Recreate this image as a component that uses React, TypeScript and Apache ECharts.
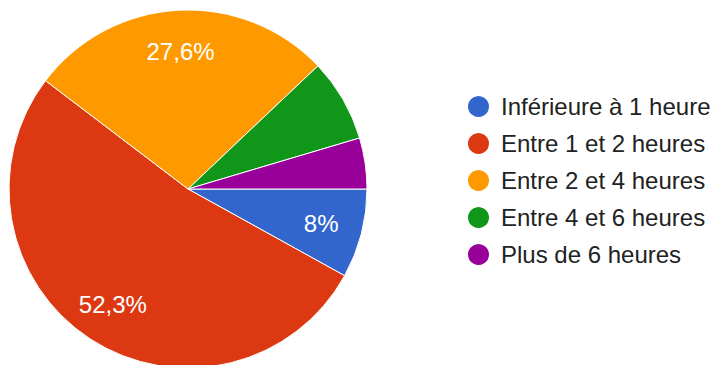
import React, { useEffect, useRef } from "react";
import * as echarts from "echarts";

const categories = [
  "Inférieure à 1 heure",
  "Entre 1 et 2 heures",
  "Entre 2 et 4 heures",
  "Entre 4 et 6 heures",
  "Plus de 6 heures",
];
const counts = [14, 91, 48, 13, 8];
const colors = ["#3366cc", "#dc3912", "#ff9900", "#109618", "#990099"];
const labelThreshold = 8; // percent; smaller slices carry no label

const FONT = "'Liberation Sans', Arial, sans-serif";

export default function App() {
  const ref = useRef<HTMLDivElement>(null);
  useEffect(() => {
    if (!ref.current) return;
    const chart = echarts.init(ref.current, null, { renderer: "svg" });
    const total = counts.reduce((a, b) => a + b, 0);
    const data = categories.map((name, i) => ({
      name,
      value: counts[i],
      itemStyle: { color: colors[i] },
    }));
    const fmt = (v: number) => {
      const p = (v / total) * 100;
      if (p < labelThreshold) return "";
      return String(Number(p.toFixed(1))).replace(".", ",") + "%";
    };
    chart.setOption({
      animation: false,
      color: colors,
      legend: {
        orient: "vertical",
        left: 461,
        top: 89,
        icon: "circle",
        itemWidth: 23,
        itemHeight: 23,
        itemGap: 12,
        data: categories,
        textStyle: {
          fontFamily: FONT,
          fontSize: 24,
          lineHeight: 24,
          color: "#222222",
          padding: [0, 0, 0, 6],
        },
      },
      series: [
        {
          type: "pie",
          center: [188, 189],
          radius: [0, 179],
          startAngle: 0,
          clockwise: true,
          silent: true,
          label: { show: false },
          labelLine: { show: false },
          itemStyle: { borderColor: "#ffffff", borderWidth: 1 },
          data,
        },
        {
          type: "pie",
          center: [188, 189],
          radius: [90, 179],
          startAngle: 0,
          clockwise: true,
          silent: true,
          legendHoverLink: false,
          itemStyle: { color: "rgba(0,0,0,0)" },
          label: {
            show: true,
            position: "inside",
            fontFamily: FONT,
            fontSize: 24,
            color: "#ffffff",
            formatter: (p: any) => fmt(p.value),
          },
          labelLine: { show: false },
          data: categories.map((name, i) => ({ name, value: counts[i] })),
        },
      ],
    });
    return () => chart.dispose();
  }, []);
  return (
    <div
      ref={ref}
      style={{ position: "fixed", left: 0, top: 0, width: 715, height: 365, background: "#ffffff" }}
    />
  );
}
